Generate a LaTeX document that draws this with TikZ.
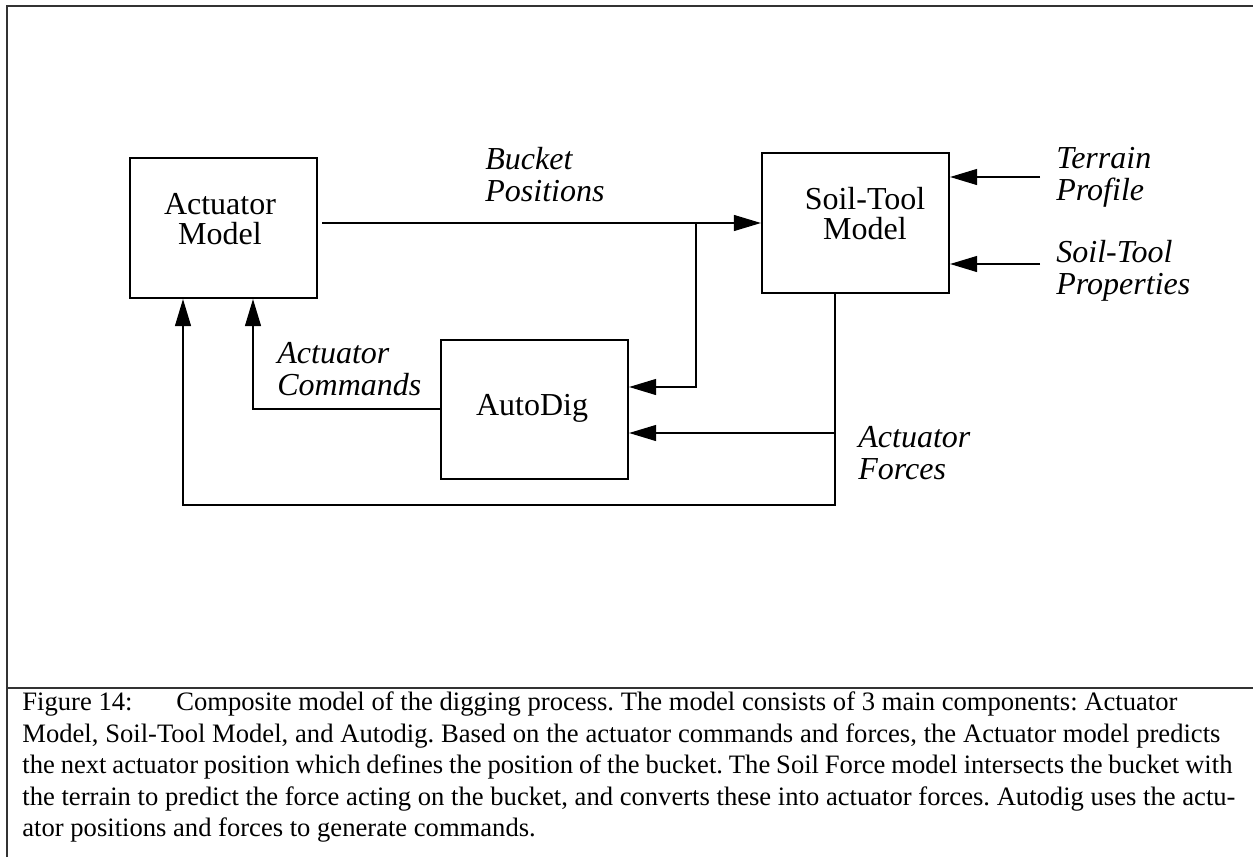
\documentclass[tikz,border=0pt]{standalone}
\usepackage{fontspec}
\setmainfont{Liberation Serif}
\usetikzlibrary{arrows.meta}
\frenchspacing
\begin{document}
\begin{tikzpicture}[x=0.5pt,y=-0.5pt,
  frameline/.style={draw=black!80, line width=1pt},
  box/.style={draw, line width=1.1pt, rectangle, inner sep=0pt, minimum width=93.5pt},
  boxtext/.style={font=\fontsize{16}{15}\selectfont, align=center, inner sep=0pt},
  lbl/.style={font=\fontsize{16}{15.75}\selectfont\itshape, align=left, anchor=north west, inner sep=0pt},
  conn/.style={line width=0.6pt},
  arr/.style={conn, -{Triangle[length=13.5pt,width=8pt]}},
  captext/.style={font=\fontsize{13.3}{16}\selectfont, anchor=base west, inner sep=0pt}]
\useasboundingbox (0,0) rectangle (1253,857);
% frame
\coordinate (fa) at (7,857);
\coordinate (fb) at (7,6);
\coordinate (fc) at (1253,6);
\coordinate (fd) at (7,688);
\coordinate (fe) at (1253,688);
\draw[frameline] (fa) -- (fb) -- (fc);
\draw[frameline] (fd) -- (fe);
% boxes
\node[box, minimum height=70pt] (am) at (223.5,228) {};
\node[box, minimum height=70pt] (st) at (855.5,223) {};
\node[box, minimum height=69.5pt] (ad) at (534.5,409.5) {};
\node[boxtext] (amt) at (220,219.5) {Actuator\\Model};
\node[boxtext] (stt) at (865,214) {Soil-Tool\\Model};
\node[boxtext] (adt) at (532,408) {AutoDig};
% connectors
\coordinate (j1) at (696,223);
\coordinate (j2) at (696,387);
\coordinate (f1) at (835,433);
\coordinate (f2) at (835,505);
\coordinate (a1) at (183,505);
\coordinate (c1) at (253,409);
\coordinate (t1) at (1040,177);
\coordinate (p1) at (1040,264);
\draw[arr, shorten <=2pt] (am.east |- j1) -- (st.west |- j1);
\draw[arr] (j1) -- (j2) -- (ad.east |- j2);
\draw[arr] (st.south -| f2) -- (f2) -- (a1) -- (am.south -| a1);
\draw[arr] (f1) -- (ad.east |- f1);
\draw[arr] (ad.west |- c1) -- (c1) -- (am.south -| c1);
\draw[arr] (t1) -- (st.east |- t1);
\draw[arr] (p1) -- (st.east |- p1);
% labels
\node[lbl] (lbp) at (485,147) {Bucket\\Positions};
\node[lbl] (ltp) at (1056,147) {Terrain\\Profile};
\node[lbl] (lsp) at (1056,240) {Soil-Tool\\Properties};
\node[lbl] (lac) at (277,342) {Actuator\\Commands};
\node[lbl] (laf) at (858,426) {Actuator\\Forces};
% caption
\node[captext] (cap0) at (22,710) {Figure 14:};
\node[captext] (cap1) at (176,710) {\makebox[500.5pt][s]{Composite model of the digging process. The model consists of 3 main components: Actuator}};
\node[captext] (cap2) at (22,742) {\makebox[599pt][s]{Model, Soil-Tool Model, and Autodig. Based on the actuator commands and forces, the Actuator model predicts}};
\node[captext] (cap3) at (22,773) {\makebox[605pt][s]{the next actuator position which defines the position of the bucket. The Soil Force model intersects the bucket with}};
\node[captext] (cap4) at (22,805) {\makebox[606.5pt][s]{the terrain to predict the force acting on the bucket, and converts these into actuator forces. Autodig uses the actu-}};
\node[captext] (cap5) at (22,836) {ator positions and forces to generate commands.};
\end{tikzpicture}
\end{document}
